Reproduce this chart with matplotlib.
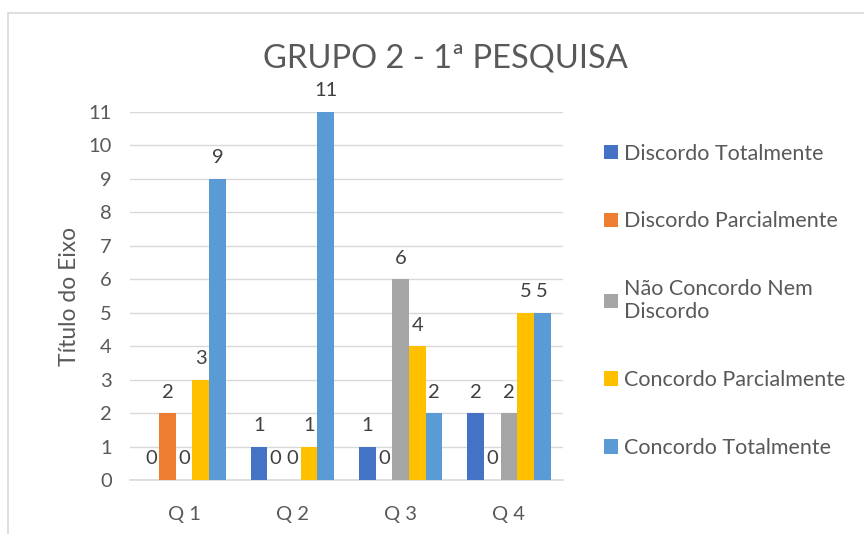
import numpy as np
import matplotlib.pyplot as plt
from matplotlib.patches import Rectangle

plt.rcParams['font.family'] = ['Lato', 'DejaVu Sans']

categories = ["Q 1", "Q 2", "Q 3", "Q 4"]
series_names = ["Discordo Totalmente", "Discordo Parcialmente",
                "Não Concordo Nem\nDiscordo", "Concordo Parcialmente",
                "Concordo Totalmente"]
discordo_total = [0, 1, 1, 2]
discordo_parcial = [2, 0, 0, 0]
nao_concordo = [0, 0, 6, 2]
concordo_parcial = [3, 1, 4, 5]
concordo_total = [9, 11, 2, 5]
colors = ["#4472C4", "#ED7D31", "#A5A5A5", "#FFC000", "#5B9BD5"]

values = [discordo_total, discordo_parcial, nao_concordo, concordo_parcial, concordo_total]

fig = plt.figure(figsize=(8.64, 5.34), dpi=100)
ax = fig.add_axes([130/864, 1-480/534, 433/864, (480-112)/534])

# chart frame
fig.patches.append(Rectangle((8/864, -0.05), 1.0, 1-13/534+0.05, transform=fig.transFigure,
                             fill=False, edgecolor="#D9D9D9", linewidth=1.2))

x = np.arange(len(categories))
w = 0.154
txt = "#404040"
for i, (name, vals, c) in enumerate(zip(series_names, values, colors)):
    pos = x + (i - 2) * w
    bars = ax.bar(pos, vals, width=w, color=c, label=name, zorder=3)
    for px, v in zip(pos, vals):
        ax.annotate(str(v), (px, v), xytext=(0, 9), textcoords="offset points",
                    ha="center", va="bottom", fontsize=14.5, color=txt, annotation_clip=False)

ax.set_xlim(-0.5, 3.5)
ax.set_ylim(0, 11)
ax.set_yticks(range(0, 12))
ax.set_xticks(x)
ax.set_xticklabels(categories)
ax.tick_params(axis="both", length=0, labelsize=14.5, labelcolor="#595959")
ax.tick_params(axis="y", pad=13)
ax.tick_params(axis="x", pad=19)
ax.grid(axis="y", color="#D9D9D9", linewidth=1, zorder=0)
for s in ["top", "right", "left"]:
    ax.spines[s].set_visible(False)
ax.spines["bottom"].set_color("#D9D9D9")
ax.spines["bottom"].set_linewidth(1.2)

ax.set_ylabel("Título do Eixo", fontsize=16.5, color="#595959", labelpad=6)
fig.text(445/864, 1-58/534, "GRUPO 2 - 1ª PESQUISA", ha="center", va="center",
         fontsize=23.5, color="#595959")

leg = fig.legend(loc="upper left", bbox_to_anchor=(595/864, 1-135/534), frameon=False,
                 fontsize=15.5, labelcolor="#595959", handlelength=0.65, handleheight=0.65,
                 handletextpad=0.3, labelspacing=2.22, borderaxespad=0)

fig.savefig("out.png", dpi=100)
